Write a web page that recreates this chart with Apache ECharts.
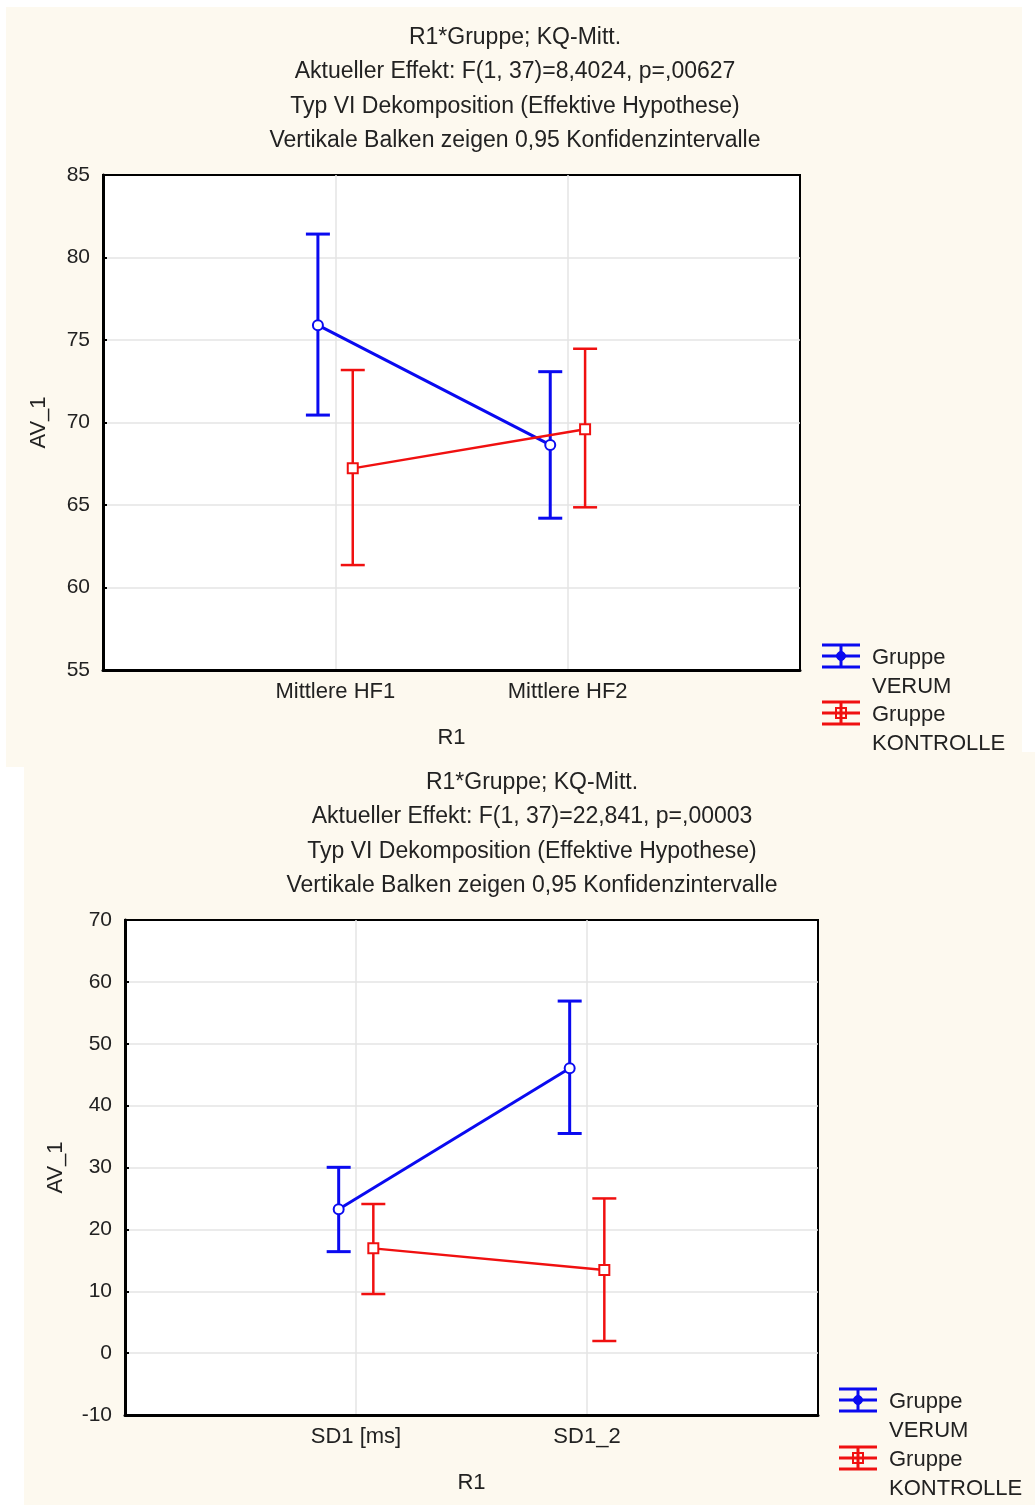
<!DOCTYPE html>
<html>
<head>
<meta charset="utf-8">
<script src="https://cdn.jsdelivr.net/npm/echarts@6/dist/echarts.min.js"></script>
<style>
  html, body { margin: 0; padding: 0; background: #fff; }
  #main { width: 1035px; height: 1505px; }
</style>
</head>
<body>
<div id="main"></div>
<script>
// top chart: mean HF
var catsTop = ['Mittlere HF1', 'Mittlere HF2'];
var verumTop = [75.9, 68.64];
var verumTopLo = [70.45, 64.2];
var verumTopHi = [81.42, 73.08];
var kontrTop = [67.22, 69.59];
var kontrTopLo = [61.36, 64.86];
var kontrTopHi = [73.18, 74.47];
var ticksTop = [55, 60, 65, 70, 75, 80, 85];
var titleTop = ['R1*Gruppe; KQ-Mitt.', 'Aktueller Effekt: F(1, 37)=8,4024, p=,00627',
  'Typ VI Dekomposition (Effektive Hypothese)', 'Vertikale Balken zeigen 0,95 Konfidenzintervalle'];

// bottom chart: SD1
var catsBot = ['SD1 [ms]', 'SD1_2'];
var verumBot = [23.24, 46.03];
var verumBotLo = [16.4, 35.5];
var verumBotHi = [30.03, 56.9];
var kontrBot = [16.93, 13.43];
var kontrBotLo = [9.55, 1.96];
var kontrBotHi = [24.1, 25.0];
var ticksBot = [-10, 0, 10, 20, 30, 40, 50, 60, 70];
var titleBot = ['R1*Gruppe; KQ-Mitt.', 'Aktueller Effekt: F(1, 37)=22,841, p=,00003',
  'Typ VI Dekomposition (Effektive Hypothese)', 'Vertikale Balken zeigen 0,95 Konfidenzintervalle'];

var groups = ['Gruppe\nVERUM', 'Gruppe\nKONTROLLE'];

var BLUE = '#0a0af0', RED = '#f01010';
var FONT = '"Liberation Sans", Arial, sans-serif';
var SHIFT = 0.075; // horizontal offset of the two groups

var myChart = echarts.init(document.getElementById('main'));

function pts(vals, dx) {
  return vals.map(function (v, i) { return [i + 1 + dx, v]; });
}
function bars(lo, hi, dx) {
  return lo.map(function (v, i) { return [i + 1 + dx, v, hi[i]]; });
}

function errorSeries(idx, lo, hi, dx, color, w) {
  return {
    type: 'custom',
    xAxisIndex: idx, yAxisIndex: idx,
    data: bars(lo, hi, dx),
    z: 3,
    renderItem: function (params, api) {
      var a = api.coord([api.value(0), api.value(1)]);
      var b = api.coord([api.value(0), api.value(2)]);
      var half = 12;
      var st = { stroke: color, lineWidth: w };
      return {
        type: 'group',
        children: [
          { type: 'line', shape: { x1: a[0], y1: a[1], x2: b[0], y2: b[1] }, style: st },
          { type: 'line', shape: { x1: a[0] - half, y1: a[1], x2: a[0] + half, y2: a[1] }, style: st },
          { type: 'line', shape: { x1: b[0] - half, y1: b[1], x2: b[0] + half, y2: b[1] }, style: st }
        ]
      };
    }
  };
}

function lineSeries(idx, name, vals, dx, color, sym, w) {
  return {
    type: 'line', name: name,
    xAxisIndex: idx, yAxisIndex: idx,
    data: pts(vals, dx),
    symbol: sym, symbolSize: 10,
    lineStyle: { color: color, width: w },
    itemStyle: { color: color, borderWidth: 2.5 },
    z: 4
  };
}

function legendItem(x, y, color, sym, lines) {
  var st = { stroke: color, lineWidth: 3 };
  var cx = x + 19;
  var marker = sym === 'circle'
    ? { type: 'circle', shape: { cx: cx, cy: y, r: 4.5 }, style: { fill: color, stroke: color, lineWidth: 1 } }
    : { type: 'rect', shape: { x: cx - 5, y: y - 5, width: 10, height: 10 }, style: { fill: 'none', stroke: color, lineWidth: 2 } };
  var txt = lines.split('\n');
  return [
    { type: 'line', shape: { x1: x, y1: y - 11, x2: x + 38, y2: y - 11 }, style: st },
    { type: 'line', shape: { x1: x, y1: y, x2: x + 38, y2: y }, style: st },
    { type: 'line', shape: { x1: x, y1: y + 11, x2: x + 38, y2: y + 11 }, style: st },
    { type: 'line', shape: { x1: cx, y1: y - 11, x2: cx, y2: y + 11 }, style: st },
    marker,
    { type: 'text', x: x + 50, y: y + 2, style: { text: txt[0], font: '22px ' + FONT, fill: '#222', textVerticalAlign: 'middle' } },
    { type: 'text', x: x + 50, y: y + 31, style: { text: txt[1], font: '22px ' + FONT, fill: '#222', textVerticalAlign: 'middle' } }
  ];
}

function xAxis(idx, cats) {
  return {
    type: 'value', gridIndex: idx, min: 0, max: 3, interval: 1,
    name: 'R1', nameLocation: 'middle', nameGap: 57,
    nameTextStyle: { color: '#222', fontSize: 22, fontFamily: FONT },
    axisLine: { show: true, onZero: false, lineStyle: { color: '#000', width: 3 } },
    axisTick: { show: false },
    axisLabel: {
      color: '#222', fontSize: 22, fontFamily: FONT, margin: 11,
      formatter: function (v) { return cats[v - 1] || ''; }
    },
    splitLine: { show: true, showMinLine: false, showMaxLine: false, lineStyle: { color: '#e4e4e4', width: 1.5 } }
  };
}

function yAxis(idx, ticks, gap) {
  return {
    type: 'value', gridIndex: idx,
    min: ticks[0], max: ticks[ticks.length - 1], interval: ticks[1] - ticks[0],
    name: 'AV_1', nameLocation: 'middle', nameGap: gap,
    nameTextStyle: { color: '#222', fontSize: 22, fontFamily: FONT },
    axisLine: { show: true, onZero: false, lineStyle: { color: '#000', width: 3 } },
    axisTick: { show: true, inside: true, length: 4, lineStyle: { color: '#000', width: 2 } },
    axisLabel: { color: '#222', fontSize: 21, fontFamily: FONT, margin: 13 },
    splitLine: { show: true, showMinLine: false, showMaxLine: false, lineStyle: { color: '#e4e4e4', width: 1.5 } }
  };
}

var titleStyle = { color: '#222', fontSize: 23, fontWeight: 'normal', fontFamily: FONT, lineHeight: 34.5 };

myChart.setOption({
  backgroundColor: '#fff',
  animation: false,
  title: [
    { text: titleTop.join('\n'), left: 510, top: 15, textAlign: 'center', textStyle: titleStyle },
    { text: titleBot.join('\n'), left: 527, top: 760, textAlign: 'center', textStyle: titleStyle }
  ],
  grid: [
    { left: 103, top: 175, width: 697, height: 495, show: true, backgroundColor: '#fff', borderColor: '#000', borderWidth: 2 },
    { left: 125, top: 920, width: 693, height: 495, show: true, backgroundColor: '#fff', borderColor: '#000', borderWidth: 2 }
  ],
  xAxis: [xAxis(0, catsTop), xAxis(1, catsBot)],
  yAxis: [yAxis(0, ticksTop, 53), yAxis(1, ticksBot, 58)],
  graphic: [
    { type: 'rect', z: -10, shape: { x: 6, y: 7, width: 1016, height: 760 }, style: { fill: '#fdf9ef' } },
    { type: 'rect', z: -10, shape: { x: 24, y: 752, width: 1011, height: 753 }, style: { fill: '#fdf9ef' } },
    { type: 'group', children: legendItem(822, 656, BLUE, 'circle', groups[0]) },
    { type: 'group', children: legendItem(822, 713, RED, 'rect', groups[1]) },
    { type: 'group', children: legendItem(839, 1400, BLUE, 'circle', groups[0]) },
    { type: 'group', children: legendItem(839, 1458, RED, 'rect', groups[1]) }
  ],
  series: [
    errorSeries(0, verumTopLo, verumTopHi, -SHIFT, BLUE, 3),
    errorSeries(0, kontrTopLo, kontrTopHi, SHIFT, RED, 2.5),
    lineSeries(0, groups[0], verumTop, -SHIFT, BLUE, 'emptyCircle', 3),
    lineSeries(0, groups[1], kontrTop, SHIFT, RED, 'emptyRect', 2.5),
    errorSeries(1, verumBotLo, verumBotHi, -SHIFT, BLUE, 3),
    errorSeries(1, kontrBotLo, kontrBotHi, SHIFT, RED, 2.5),
    lineSeries(1, groups[0], verumBot, -SHIFT, BLUE, 'emptyCircle', 3),
    lineSeries(1, groups[1], kontrBot, SHIFT, RED, 'emptyRect', 2.5)
  ]
});
</script>
</body>
</html>
